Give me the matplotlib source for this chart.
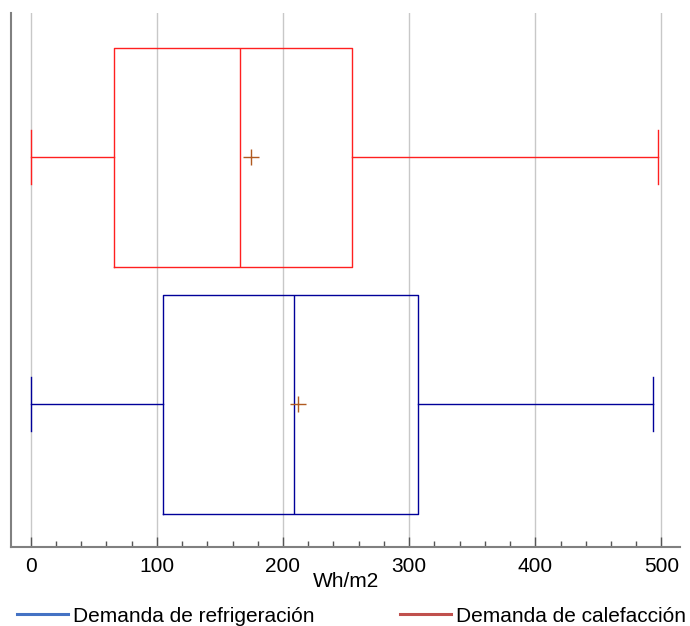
import matplotlib.pyplot as plt
from matplotlib.lines import Line2D
from matplotlib.ticker import MultipleLocator

plt.rcParams['font.family'] = ['Liberation Sans', 'DejaVu Sans']

# box statistics (Wh/m2)
series = ['Demanda de refrigeración', 'Demanda de calefacción']
whislo = [0, 0]
q1 = [105, 66]
med = [209, 166]
q3 = [307, 255]
whishi = [493, 497]
mean = [212, 175]

box_colors = ['#000099', '#FF2020']
legend_colors = ['#4472C4', '#C0504D']

fig = plt.figure(figsize=(6.9, 6.26), dpi=100)
ax = fig.add_axes([0.016, 0.126, 0.97, 0.853])

for i in range(len(series)):
    stats = [dict(whislo=whislo[i], q1=q1[i], med=med[i], q3=q3[i],
                  whishi=whishi[i], mean=mean[i], fliers=[])]
    c = box_colors[i]
    ax.bxp(stats, positions=[i + 1], widths=0.887, vert=False, showmeans=True,
           capwidths=[0.22],
           boxprops=dict(color=c, linewidth=1),
           whiskerprops=dict(color=c, linewidth=1),
           capprops=dict(color=c, linewidth=1),
           medianprops=dict(color=c, linewidth=1),
           meanprops=dict(marker='+', markeredgecolor='#B05A20', markersize=11,
                          markeredgewidth=1),
           zorder=3)

ax.set_xlim(-15.6, 515)
ax.set_ylim(0.421, 2.583)
ax.xaxis.set_major_locator(MultipleLocator(100))
ax.xaxis.set_minor_locator(MultipleLocator(20))
ax.set_yticks([])
ax.tick_params(axis='x', which='major', direction='in', length=7, width=1,
               color='#555555', labelsize=15, pad=7)
ax.tick_params(axis='x', which='minor', direction='in', length=4, width=1,
               color='#555555')
ax.grid(axis='x', which='major', color='#C8C8C8', linewidth=1, zorder=0)
ax.set_axisbelow(True)
ax.spines['top'].set_visible(False)
ax.spines['right'].set_visible(False)
ax.spines['left'].set_color('#808080')
ax.spines['bottom'].set_color('#808080')
ax.spines['left'].set_linewidth(1.5)
ax.spines['bottom'].set_linewidth(1.5)
ax.set_xlabel('Wh/m2', fontsize=15, labelpad=-3)

handles = [Line2D([], [], color=c, linewidth=2.2) for c in legend_colors]
fig.legend(handles, series, loc='center left', bbox_to_anchor=(17 / 690, 1 - 616 / 626),
           ncol=2, frameon=False, fontsize=15, handlelength=2.45,
           handletextpad=0.25, columnspacing=4.1, borderpad=0, borderaxespad=0)

fig.savefig('out.png', dpi=100)
